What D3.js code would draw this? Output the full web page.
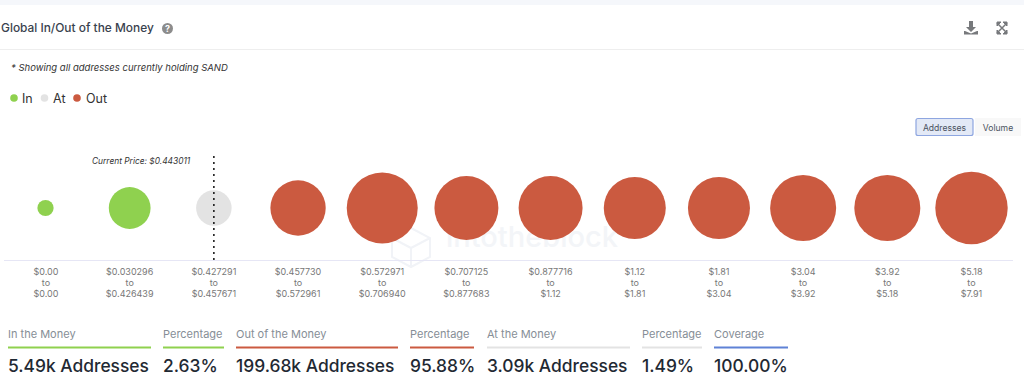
<!DOCTYPE html>
<html><head><meta charset="utf-8">
<script src="https://cdnjs.cloudflare.com/ajax/libs/d3/7.8.5/d3.min.js"></script>
<style>html,body{margin:0;padding:0;background:#fff;overflow:hidden}svg{display:block;font-family:Inter,"Noto Sans",sans-serif}</style>
</head><body><svg id="c" width="1024" height="385"></svg>
<script>
const rangeFrom = ["$0.00","$0.030296","$0.427291","$0.457730","$0.572971","$0.707125","$0.877716","$1.12","$1.81","$3.04","$3.92","$5.18"];
const rangeTo = ["$0.00","$0.426439","$0.457671","$0.572961","$0.706940","$0.877683","$1.12","$1.81","$3.04","$3.92","$5.18","$7.91"];
const addresses = [240,5250,3090,13100,29500,21000,21000,19000,19000,23300,23300,31480];
const status = ["In","In","At","Out","Out","Out","Out","Out","Out","Out","Out","Out"];
const legendNames = ["In","At","Out"];
const statLabels = ["In the Money","Percentage","Out of the Money","Percentage","At the Money","Percentage","Coverage"];
const statValues = ["5.49k Addresses","2.63%","199.68k Addresses","95.88%","3.09k Addresses","1.49%","100.00%"];
const statKinds = ["In","In","Out","Out","At","At","Cov"];
const statX0 = [8,163,236,410,487,642,714];
const statX1 = [151,224,398,474,630,702,788];
const colors = {In:"#8fd14f",At:"#e3e3e3",Out:"#cb5a40",Cov:"#5f82d6"};

const svg = d3.select("#c");
svg.append("rect").attr("width",1024).attr("height",5).attr("fill","#f5f7fb");
svg.append("line").attr("x1",0).attr("x2",1024).attr("y1",49.5).attr("y2",49.5).attr("stroke","#eeeeee");

svg.append("text").attr("x",1).attr("y",32).attr("font-size",11.9).attr("font-weight",500).attr("fill","#39424e").text("Global In/Out of the Money");
svg.append("circle").attr("cx",167.5).attr("cy",28.5).attr("r",5.5).attr("fill","#8c8c8c");
svg.append("text").attr("x",167.5).attr("y",32).attr("text-anchor","middle").attr("font-size",9).attr("font-weight",700).attr("fill","#fff").text("?");

// toolbar icons
svg.append("path").attr("d","M969 21h4v6h3l-5 5-5-5h3zM965 31l6 2.500 6-2.500h1v3.500h-14v-3.500z").attr("fill","#77797c");
svg.append("path").attr("d","M997 23l10 10M1007 23l-10 10").attr("stroke","#77797c").attr("stroke-width",1.5).attr("fill","none");
svg.append("path").attr("d","M997 22h4l-4 4zM1007 22h-4l4 4zM997 34h4l-4-4zM1007 34h-4l4-4z").attr("fill","#77797c").attr("stroke","#77797c");

svg.append("text").attr("x",11).attr("y",71).attr("font-size",9.5).attr("font-style","italic").attr("fill","#333").text("* Showing all addresses currently holding SAND");

// legend
const legendDotX = [14,44.5,77], legendTextX = [22,53,86];
legendNames.forEach((n,i)=>{
  svg.append("circle").attr("cx",legendDotX[i]).attr("cy",98).attr("r",3.8).attr("fill",colors[n]);
  svg.append("text").attr("x",legendTextX[i]).attr("y",102.500).attr("font-size",12.500).attr("fill","#333").text(n);
});

// buttons
svg.append("rect").attr("x",916).attr("y",118.500).attr("width",57).attr("height",17).attr("rx",2).attr("fill","#e3e9f6").attr("stroke","#8ea6e0").attr("stroke-width",1.2);
svg.append("text").attr("x",944.500).attr("y",131).attr("text-anchor","middle").attr("font-size",8.600).attr("fill","#4a5260").text("Addresses");
svg.append("rect").attr("x",975).attr("y",118).attr("width",46).attr("height",18).attr("fill","#f8f8f8");
svg.append("text").attr("x",998).attr("y",131).attr("text-anchor","middle").attr("font-size",8.600).attr("fill","#4a5260").text("Volume");

// scales
const x = d3.scalePoint().domain(d3.range(addresses.length)).range([45.500,971.500]);
const r = d3.scalePow().exponent(0.307).domain([0,29500]).range([0,35.500]);
const cy = 208;

// watermark
const wm = svg.append("g").attr("fill","none").attr("stroke","#f1f3f7").attr("stroke-width",2);
wm.append("path").attr("d","M392 238l19-10 19 10v19l-19 10-19-10zM392 238l19 10 19-10M411 248v19");
svg.append("text").attr("x",446).attr("y",247).attr("font-size",29).attr("font-weight",500).attr("fill","#f3f5f8").text("intotheblock");

// bubbles
svg.append("g").selectAll("circle").data(addresses).join("circle")
  .attr("cx",(d,i)=>x(i)).attr("cy",cy).attr("r",d=>r(d)).attr("fill",(d,i)=>colors[status[i]]);

// current price marker
const priceX = x(2);
svg.append("line").attr("x1",priceX).attr("x2",priceX).attr("y1",156).attr("y2",260).attr("stroke","#111").attr("stroke-width",1.500).attr("stroke-dasharray","2 4");
svg.append("text").attr("x",92).attr("y",164).attr("font-size",8.400).attr("font-style","italic").attr("fill","#333").text("Current Price: $0.443011");

// axis
const axis = d3.axisBottom(x).tickSize(0).tickFormat("");
const ax = svg.append("g").attr("transform","translate(0,261)").call(axis);
ax.select(".domain").remove();
svg.append("line").attr("x1",4).attr("x2",1013).attr("y1",260.500).attr("y2",260.500).attr("stroke","#e6e6f5");
const lab = svg.append("g").attr("font-size",9).attr("fill","#777").attr("text-anchor","middle");
addresses.forEach((d,i)=>{
  const lx = i===0 ? 46 : x(i);
  lab.append("text").attr("x",lx).attr("y",275).text(rangeFrom[i]);
  lab.append("text").attr("x",lx).attr("y",286).text("to");
  lab.append("text").attr("x",lx).attr("y",297).text(rangeTo[i]);
});

// stats
statLabels.forEach((t,i)=>{
  svg.append("text").attr("x",statX0[i]).attr("y",338).attr("font-size",11).attr("fill","#868e96").text(t);
  svg.append("line").attr("x1",statX0[i]).attr("x2",statX1[i]).attr("y1",347.500).attr("y2",347.500).attr("stroke",colors[statKinds[i]]).attr("stroke-width",1.800);
  svg.append("text").attr("x",statX0[i]).attr("y",372).attr("font-size",17.400).attr("font-weight",500).attr("fill","#1f2933").text(statValues[i]);
});
</script></body></html>
